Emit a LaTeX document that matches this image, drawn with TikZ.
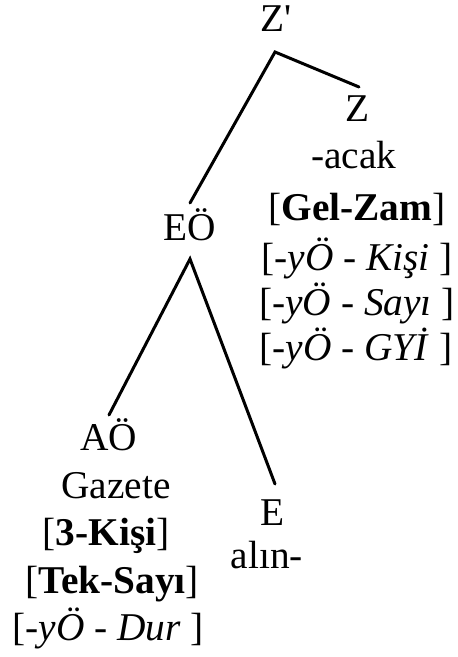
\documentclass[tikz,border=0pt]{standalone}
\usepackage{fontspec}
\setmainfont{Liberation Serif}[Ligatures=TeXOff]
\begin{document}
\begin{tikzpicture}[x=1bp,y=-1bp,
  lbl/.style={anchor=base,inner sep=0pt,font=\fontsize{39.5}{46}\selectfont},
  branch/.style={line width=3bp,line cap=round}]
\useasboundingbox (0,0) rectangle (458,657);
% labels
\node[lbl] (zp) at (276,32) {Z'};
\node[lbl] (z) at (358,122) {Z};
\node[lbl] (acak) at (354,168) {-acak};
\node[lbl] (gelzam) at (357,220) {[\textbf{Gel-Zam}]};
\node[lbl] (kisi) at (357,270) {[\textit{-yÖ} - \textit{Kişi} ]};
\node[lbl] (sayi) at (357,315) {[\textit{-yÖ} - \textit{Sayı} ]};
\node[lbl] (gyi) at (356,360) {[\textit{-yÖ} - \textit{GYİ} ]};
\node[lbl] (eo) at (190,240) {EÖ};
\node[lbl] (ao) at (109,450) {AÖ};
\node[lbl] (gazete) at (116,498) {Gazete};
\node[lbl] (uckisi) at (106,545) {[\textbf{3-Kişi}]};
\node[lbl] (teksayi) at (112,593) {[\textbf{Tek-Sayı}]};
\node[lbl] (dur) at (108,640) {[\textit{-yÖ} - \textit{Dur} ]};
\node[lbl] (e) at (273,525) {E};
\node[lbl] (alin) at (267,568) {alın-};
% branch points
\coordinate (top) at (275,52);
\coordinate (topR) at (359,87);
\coordinate (topL) at (190,203);
\coordinate (mid) at (190,259);
\coordinate (midL) at (109,415);
\coordinate (midR) at (275,484);
\draw[branch] (topL) -- (top) -- (topR);
\draw[branch] (midL) -- (mid) -- (midR);
\end{tikzpicture}
\end{document}
